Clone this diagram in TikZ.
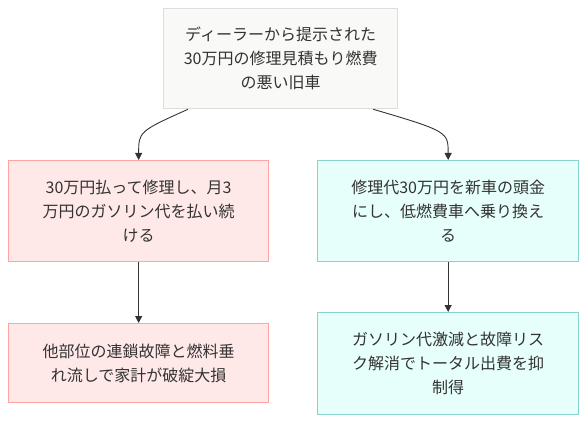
\documentclass[tikz,border=0pt]{standalone}
\usepackage{fontspec}
\setmainfont{Noto Sans CJK JP}
\usetikzlibrary{arrows.meta}
\definecolor{txt}{HTML}{333333}
\definecolor{topfill}{HTML}{F9F9F7}
\definecolor{topdraw}{HTML}{DDDDDD}
\definecolor{pinkfill}{HTML}{FFE8E8}
\definecolor{pinkdraw}{HTML}{FFA3A3}
\definecolor{cyanfill}{HTML}{E6FFFA}
\definecolor{cyandraw}{HTML}{88D4CC}
\tikzset{
  box/.style={draw, line width=1.3pt, align=center, text=txt, font=\fontsize{16pt}{24pt}\selectfont, inner sep=0pt, anchor=north west},
  topbox/.style={box, fill=topfill, draw=topdraw},
  pinkbox/.style={box, fill=pinkfill, draw=pinkdraw},
  cyanbox/.style={box, fill=cyanfill, draw=cyandraw},
  conn/.style={draw=txt, line width=0.9pt, -{Triangle[length=7pt,width=7pt]}}
}
\begin{document}
\begin{tikzpicture}[x=1pt,y=-1pt]
\useasboundingbox (0,0) rectangle (586,422);
\node[topbox, minimum width=234pt, minimum height=100pt] (top) at (163,8) {ディーラーから提示された\\30万円の修理見積もり燃費\\の悪い旧車};
\node[pinkbox, minimum width=260pt, minimum height=101pt] (l1) at (8,160) {30万円払って修理し、月3\\万円のガソリン代を払い続\\ける};
\node[cyanbox, minimum width=261pt, minimum height=101pt] (r1) at (317,160) {修理代30万円を新車の頭金\\にし、低燃費車へ乗り換え\\る};
\node[pinkbox, minimum width=260pt, minimum height=79pt] (l2) at (8,323) {他部位の連鎖故障と燃料垂\\れ流しで家計が破綻大損};
\node[cyanbox, minimum width=261pt, minimum height=102pt] (r2) at (317,312) {ガソリン代激減と故障リス\\ク解消でトータル出費を抑\\制得};
\coordinate (ts1) at ([xshift=25pt]top.south west);
\coordinate (ts2) at ([xshift=-25pt]top.south east);
\draw[conn] (ts1) .. controls ([yshift=-22pt]ts1 -| l1.north) and ([yshift=28pt]l1.north) .. (l1.north);
\draw[conn] (ts2) .. controls ([yshift=-22pt]ts2 -| r1.north) and ([yshift=28pt]r1.north) .. (r1.north);
\draw[conn] (l1.south) -- (l2.north);
\draw[conn] (r1.south) -- (r2.north);
\end{tikzpicture}
\end{document}
